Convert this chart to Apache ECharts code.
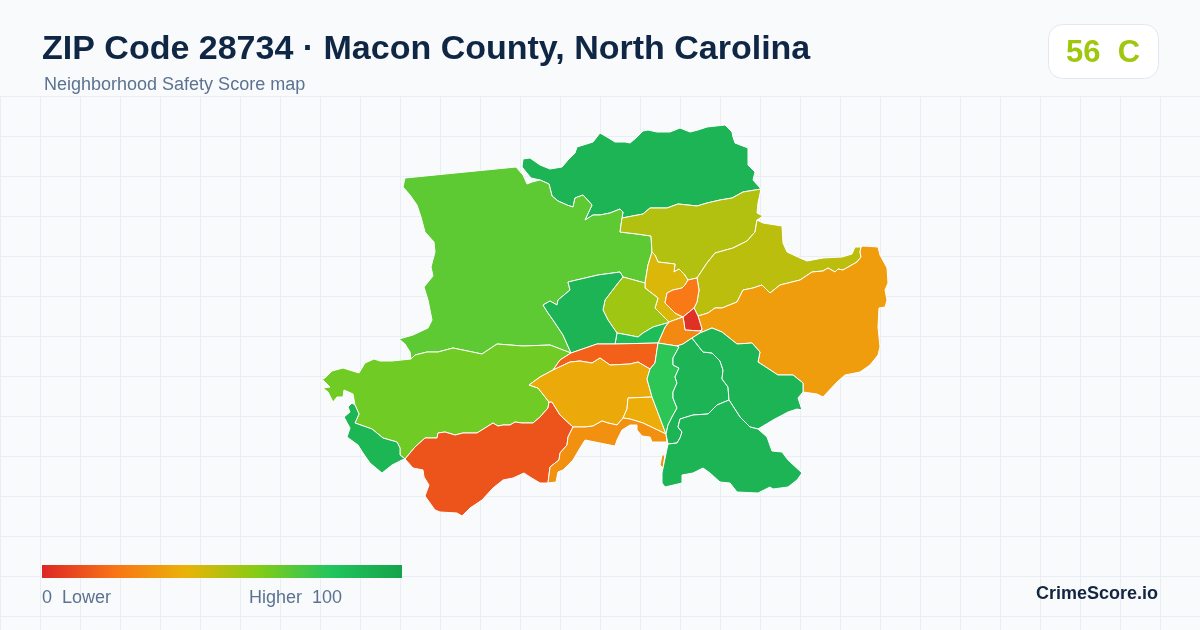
<!DOCTYPE html>
<html>
<head>
<meta charset="utf-8">
<title>ZIP Code 28734</title>
<script src="https://cdn.jsdelivr.net/npm/echarts@6/dist/echarts.min.js"></script>
<style>
  html, body { margin: 0; padding: 0; background: #f8fafc; }
  #chart { width: 1200px; height: 630px; }
</style>
</head>
<body>
<div id="chart"></div>
<script>
// scores, one per neighborhood
const regionNames = ['north', 'northwest', 'southwest', 'swTip', 'swRed', 'northYellow', 'olive', 'eastOrange', 'gold', 'centerOrange', 'red', 'lowOrange', 'lime', 'patch', 'midGreen', 'strip', 'bigYellow', 'innerYellow', 'southOrange', 'thinGreen', 'central', 'eastGreen', 'southGreen'];
const regionScores = [90, 68, 64, 89, 12, 51, 49, 33, 43, 22, 3, 27, 55, 85, 90, 15, 37, 38, 29, 78, 90, 90, 90];

const scoreMin = 0;
const scoreMax = 100;
const scaleColors = ['#dc2626', '#f97316', '#eab308', '#84cc16', '#22c55e', '#16a34a'];

const overallScore = '56  C';
const lowText = '0  Lower';
const highText = 'Higher  100';

// shared borders between neighborhoods
const borders = {
  northWest: [[540,180],[549,184],[552,196],[558,201],[567,205],[573,207],[575,198],[583,195],[592,205],[585,220],[593,215],[600,215],[610,213],[620,209],[623,212],[622,218]],
  northYellowTop: [[622,218],[643,214],[650,208],[667,208],[678,204],[688,205],[697,206],[707,203],[720,200],[732,198],[743,192],[761,189]],
  northOuter: [[761,189],[753,180],[755,172],[748,165],[748,148],[735,143],[733,137],[732,132],[725,125],[716,126],[707,127],[698,130],[690,132],[680,128],[670,132],[657,132],[648,130],[643,131],[636,138],[630,143],[625,142],[615,142],[607,137],[600,133],[593,142],[577,147],[575,153],[568,160],[562,167],[550,169],[540,165],[530,158],[523,159],[522,167],[531,178],[540,180]],
  nwOuter: [[540,180],[532,182],[527,184],[523,175],[516,167],[405,178],[403,187],[410,195],[417,205],[421,217],[425,232],[434,242],[435,252],[431,267],[433,276],[424,287],[428,300],[432,320],[428,328],[413,335],[399,339],[405,344],[410,352],[411,359]],
  nwSouth: [[411,359],[415,355],[427,352],[438,352],[453,348],[482,354],[497,344],[523,346],[550,345],[571,353]],
  midWest: [[571,353],[563,335],[553,320],[548,313],[543,305],[550,301],[557,305],[558,300],[570,290],[568,282],[598,275],[620,272],[623,277]],
  nwLime: [[623,277],[645,283]],
  nwGold: [[652,252],[648,265],[645,283]],
  nwYellow: [[622,218],[620,232],[637,234],[651,236],[652,252]],
  midLime: [[623,277],[618,283],[605,300],[603,310],[608,320],[617,333]],
  yellowEast: [[761,189],[758,203],[757,213],[763,216],[757,220]],
  yellowOlive: [[757,220],[755,232],[747,241],[733,248],[715,253],[707,263],[697,278]],
  orangeYellow: [[697,278],[688,280]],
  goldTop: [[688,280],[684,274],[679,269],[674,272],[675,264],[658,262],[655,255],[652,252]],
  goldOrange: [[688,280],[685,285],[682,288],[673,290],[667,293],[665,303],[675,313],[683,317]],
  goldLow: [[683,317],[669,322]],
  goldLime: [[645,283],[645,288],[658,298],[655,308],[664,317],[669,322]],
  orangeOlive: [[697,278],[699,290],[697,302],[694,308]],
  orangeRed: [[694,308],[683,317]],
  redOlive: [[694,308],[698,316]],
  redEast: [[698,316],[702,329]],
  redLow: [[702,329],[700,331],[685,330],[684,323],[683,317]],
  lowGreen: [[669,322],[665,327],[658,343]],
  lowThin: [[658,343],[677,346]],
  lowCentral: [[677,346],[683,344],[692,338]],
  lowEast: [[692,338],[700,333]],
  lowBig: [[700,333],[702,329]],
  limeGreen: [[617,333],[628,335],[638,337],[643,333],[653,327],[667,323],[669,322]],
  patchMid: [[617,333],[615,344]],
  patchStrip: [[615,344],[658,343]],
  midStrip: [[615,344],[597,344],[571,353]],
  stripThin: [[658,343],[655,363],[650,369]],
  stripYellow: [[650,369],[638,362],[630,364],[610,365],[600,358],[592,363],[580,361],[570,362],[553,370]],
  stripSw: [[553,370],[560,360],[571,353]],
  swYellow: [[553,370],[540,377],[529,385],[538,388],[549,402]],
  swRed: [[549,402],[548,408],[540,417],[533,423],[522,423],[515,422],[510,425],[503,425],[498,426],[493,423],[477,433],[463,433],[455,435],[445,432],[438,433],[437,438],[425,438],[415,447],[405,459]],
  swSmall: [[405,459],[400,455],[400,448],[397,442],[383,438],[372,429],[355,423],[359,414],[355,405]],
  swOuter: [[355,405],[353,394],[344,390],[343,397],[337,397],[333,402],[328,392],[323,388],[330,387],[323,380],[313,384],[325,378],[332,371],[343,368],[359,373],[365,363],[374,359],[380,361],[392,361],[411,359]],
  swTipOuter: [[355,405],[352,403],[348,407],[350,412],[344,417],[350,428],[347,437],[358,445],[363,453],[370,463],[382,473],[392,465],[402,460],[405,459]],
  thinYellow: [[650,369],[647,379],[652,397]],
  thinInner: [[652,397],[666,434]],
  innerTop: [[652,397],[628,398],[627,409],[623,418]],
  innerSouth: [[623,418],[630,419],[643,423],[666,434]],
  ySouth: [[623,418],[617,425],[608,423],[602,421],[593,426],[585,427],[573,427]],
  yRed: [[573,427],[560,415],[552,402],[549,402]],
  soBottom: [[666,434],[667,442],[652,442],[650,437],[642,436],[637,430],[637,425],[630,425],[622,430],[617,440],[615,446],[600,443],[585,440],[580,448],[573,460],[563,470],[558,472],[556,482],[548,483]],
  soRed: [[573,427],[568,437],[567,445],[560,453],[559,460],[550,467],[548,483]],
  redOuter: [[548,483],[540,483],[530,477],[524,473],[513,478],[503,480],[493,488],[482,500],[470,508],[462,516],[457,513],[440,512],[435,510],[425,496],[429,485],[424,477],[423,470],[413,468],[405,459]],
  thinRight: [[677,346],[679,347],[673,358],[673,365],[679,368],[675,377],[677,383],[673,392],[673,398],[677,408],[672,417],[668,425],[666,434]],
  centralEast: [[692,338],[703,352],[712,353],[720,361],[723,370],[722,379],[728,387],[729,400]],
  centralSouth: [[729,400],[717,405],[708,414],[693,415],[680,419],[678,427],[682,432],[680,438],[677,443],[668,444]],
  centralThin: [[668,444],[666,434]],
  eastBig: [[700,333],[712,328],[722,332],[737,344],[752,343],[760,352],[758,362],[778,375],[793,375],[803,383],[803,392]],
  eastOuter: [[803,392],[798,398],[802,410],[797,409],[788,412],[773,420],[758,429]],
  eastSouth: [[758,429],[750,427],[740,417],[729,400]],
  southOuter: [[758,429],[767,437],[772,451],[782,452],[788,460],[802,473],[797,480],[788,487],[773,489],[770,487],[758,493],[737,492],[730,483],[720,482],[710,473],[703,468],[693,473],[682,475],[682,483],[665,487],[662,483],[662,473],[668,444]],
  bigTop: [[698,316],[708,313],[715,308],[722,308],[737,302],[743,290],[753,288],[762,285],[770,293],[780,285],[792,282],[800,280],[812,272],[823,271],[828,268],[835,272],[838,269],[843,270],[857,262],[861,257],[860,252],[861,247]],
  bigOuter: [[861,247],[863,246],[878,247],[880,255],[887,268],[888,283],[885,290],[887,300],[885,307],[879,308],[878,327],[880,347],[878,355],[870,365],[860,372],[845,375],[837,382],[823,397],[817,394],[803,392]],
  oliveOuter: [[757,220],[763,223],[782,226],[783,243],[787,252],[800,258],[807,261],[823,258],[842,257],[852,254],[855,247],[858,247],[861,247]]
};
const soIsland = [[662,455],[665,455],[663,468],[660,465],[662,455]];

// each neighborhood is a ring of borders, '-' means walk it backwards
const shapes = {
  north: ['northWest', 'northYellowTop', 'northOuter'],
  northwest: ['nwOuter', 'nwSouth', 'midWest', 'nwLime', '-nwGold', '-nwYellow', '-northWest'],
  southwest: ['nwSouth', '-stripSw', 'swYellow', 'swRed', 'swSmall', 'swOuter'],
  swTip: ['swTipOuter', 'swSmall'],
  swRed: ['-swRed', '-yRed', 'soRed', 'redOuter'],
  northYellow: ['northYellowTop', 'yellowEast', 'yellowOlive', 'orangeYellow', 'goldTop', '-nwYellow'],
  olive: ['-yellowOlive', 'oliveOuter', '-bigTop', '-redOlive', '-orangeOlive'],
  eastOrange: ['bigTop', 'bigOuter', '-eastBig', 'lowBig', '-redEast'],
  gold: ['nwGold', 'goldLime', '-goldLow', '-goldOrange', 'goldTop'],
  centerOrange: ['-orangeYellow', 'orangeOlive', 'orangeRed', '-goldOrange'],
  red: ['-orangeRed', 'redOlive', 'redEast', 'redLow'],
  lowOrange: ['redLow', 'goldLow', 'lowGreen', 'lowThin', 'lowCentral', 'lowEast', 'lowBig'],
  lime: ['midLime', 'limeGreen', '-goldLime', '-nwLime'],
  patch: ['-limeGreen', 'patchMid', 'patchStrip', '-lowGreen'],
  midGreen: ['midWest', 'midLime', 'patchMid', 'midStrip'],
  strip: ['-midStrip', 'patchStrip', 'stripThin', 'stripYellow', 'stripSw'],
  bigYellow: ['-stripYellow', 'thinYellow', 'innerTop', 'ySouth', 'yRed', '-swYellow'],
  innerYellow: ['innerTop', 'innerSouth', '-thinInner'],
  southOrange: ['-ySouth', 'innerSouth', 'soBottom', '-soRed'],
  thinGreen: ['lowThin', 'thinRight', '-thinInner', '-thinYellow', '-stripThin'],
  central: ['centralEast', 'centralSouth', 'centralThin', '-thinRight', 'lowCentral'],
  eastGreen: ['lowEast', 'eastBig', 'eastOuter', 'eastSouth', '-centralEast'],
  southGreen: ['-centralSouth', '-eastSouth', 'southOuter']
};

function ringOf(parts) {
  var ring = [];
  parts.forEach(function (part) {
    var back = part.charAt(0) === '-';
    var pts = borders[back ? part.slice(1) : part].slice();
    if (back) pts.reverse();
    pts.forEach(function (p) { ring.push([p[0], -p[1]]); }); // map y points up
  });
  ring.push(ring[0]);
  return ring;
}

const features = regionNames.map(function (name) {
  var ring = ringOf(shapes[name]);
  var geometry = { type: 'Polygon', coordinates: [ring] };
  if (name === 'southOrange') {
    geometry = {
      type: 'MultiPolygon',
      coordinates: [[ring], [soIsland.map(function (p) { return [p[0], -p[1]]; })]]
    };
  }
  return { type: 'Feature', properties: { name: name }, geometry: geometry };
});

echarts.registerMap('zip28734', { type: 'FeatureCollection', features: features });

const chart = echarts.init(document.getElementById('chart'), null, { renderer: 'canvas' });
const fontFamily = '"Liberation Sans", Arial, sans-serif';

chart.setOption({
  animation: false,
  backgroundColor: '#f8fafc',
  title: [
    { text: 'ZIP Code 28734 · Macon County, North Carolina', left: 42, top: 33, padding: 0,
      textStyle: { fontFamily: fontFamily, fontSize: 34, fontWeight: 'bold', color: '#0f2744' } },
    { text: 'Neighborhood Safety Score map', left: 44, top: 76, padding: 0,
      textStyle: { fontFamily: fontFamily, fontSize: 18, fontWeight: 'normal', color: '#5b7390' } },
    { text: overallScore, left: 1066, top: 38, padding: 0,
      textStyle: { fontFamily: fontFamily, fontSize: 31, fontWeight: 'bold', color: '#9fc70f' } },
    { text: lowText, left: 42, top: 589, padding: 0,
      textStyle: { fontFamily: fontFamily, fontSize: 18, fontWeight: 'normal', color: '#5b7390' } },
    { text: highText, left: 249, top: 589, padding: 0,
      textStyle: { fontFamily: fontFamily, fontSize: 18, fontWeight: 'normal', color: '#5b7390' } },
    { text: 'CrimeScore.io', left: 1036, top: 585, padding: 0,
      textStyle: { fontFamily: fontFamily, fontSize: 18, fontWeight: 'bold', color: '#14263f' } }
  ],
  // backdrop grid
  grid: { left: 0, right: 0, top: 96, bottom: 0 },
  xAxis: {
    type: 'value', min: 0, max: 1200, interval: 40,
    axisLine: { show: false }, axisTick: { show: false }, axisLabel: { show: false },
    splitLine: { show: true, lineStyle: { color: '#e8eef3', width: 1 } }
  },
  yAxis: {
    type: 'value', min: 0, max: 534, interval: 40, inverse: true,
    axisLine: { show: false }, axisTick: { show: false }, axisLabel: { show: false },
    splitLine: { show: true, lineStyle: { color: '#e8eef3', width: 1 } }
  },
  visualMap: {
    type: 'continuous',
    min: scoreMin,
    max: scoreMax,
    show: false,
    seriesIndex: 0,
    inRange: { color: scaleColors }
  },
  graphic: [{
    type: 'rect',
    z: 1,
    shape: { x: 1048.5, y: 24.5, width: 110, height: 54, r: 14 },
    style: { fill: '#ffffff', stroke: '#e2e8f0', lineWidth: 1 }
  }, {
    // colour scale bar, same stops as the map
    type: 'rect',
    z: 1,
    shape: { x: 42, y: 565, width: 360, height: 13 },
    style: {
      fill: new echarts.graphic.LinearGradient(0, 0, 1, 0, scaleColors.map(function (c, i) {
        return { offset: i / (scaleColors.length - 1), color: c };
      }))
    }
  }],
  series: [{
    type: 'map',
    map: 'zip28734',
    aspectScale: 1,
    boundingCoords: [[0, 0], [1200, -630]],
    left: 0,
    top: 0,
    width: 1200,
    height: 630,
    roam: false,
    silent: true,
    selectedMode: false,
    label: { show: false },
    itemStyle: { borderColor: '#ffffff', borderWidth: 1, borderJoin: 'round' },
    data: regionNames.map(function (name, i) { return { name: name, value: regionScores[i] }; })
  }]
});
</script>
</body>
</html>
